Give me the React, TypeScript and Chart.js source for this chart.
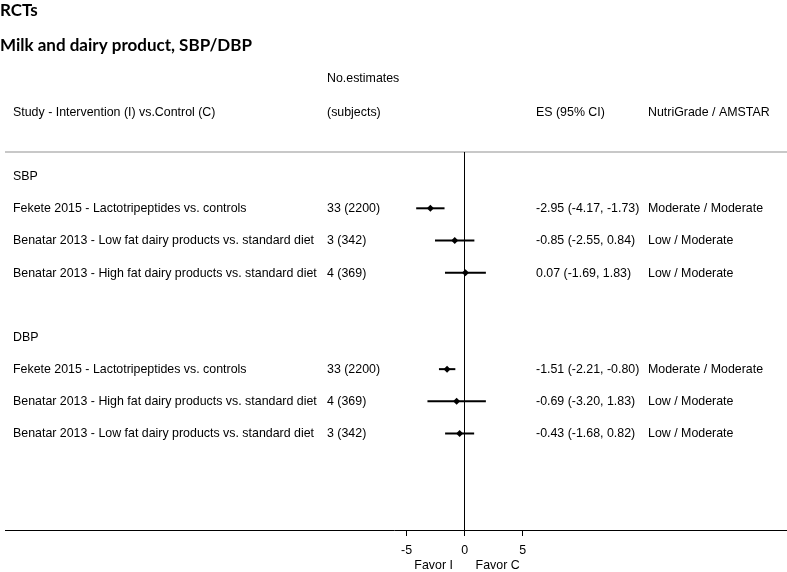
import React, { useEffect, useRef } from "react";
import { Chart, registerables } from "chart.js";

Chart.register(...registerables);

const titleTop = "RCTs";
const titleMain = "Milk and dairy product, SBP/DBP";

const rowLabels = [
  "SBP",
  "Fekete 2015 - Lactotripeptides vs. controls",
  "Benatar 2013 - Low fat dairy products vs. standard diet",
  "Benatar 2013 - High fat dairy products vs. standard diet",
  "",
  "DBP",
  "Fekete 2015 - Lactotripeptides vs. controls",
  "Benatar 2013 - High fat dairy products vs. standard diet",
  "Benatar 2013 - Low fat dairy products vs. standard diet",
];
const estimates = ["", "33 (2200)", "3 (342)", "4 (369)", "", "", "33 (2200)", "4 (369)", "3 (342)"];
const es: (number | null)[] = [null, -2.95, -0.85, 0.07, null, null, -1.51, -0.69, -0.43];
const lower: (number | null)[] = [null, -4.17, -2.55, -1.69, null, null, -2.21, -3.2, -1.68];
const upper: (number | null)[] = [null, -1.73, 0.84, 1.83, null, null, -0.8, 1.83, 0.82];
const grades = ["", "Moderate / Moderate", "Low / Moderate", "Low / Moderate", "", "", "Moderate / Moderate", "Low / Moderate", "Low / Moderate"];
const xTicks = [-5, 0, 5];

const fmt = (v: number) => v.toFixed(2);
const FONT = "12.4px 'Liberation Sans', Arial, sans-serif";

const textPlugin = {
  id: "forestText",
  beforeDraw(chart: any) {
    const { ctx, chartArea } = chart;
    ctx.save();
    ctx.strokeStyle = "#c8c8c8";
    ctx.lineWidth = 2;
    ctx.beginPath();
    ctx.moveTo(chartArea.left, chartArea.top);
    ctx.lineTo(chart.width, chartArea.top);
    ctx.stroke();
    ctx.strokeStyle = "#000";
    ctx.lineWidth = 1;
    ctx.beginPath();
    ctx.moveTo(chartArea.right - 1, chartArea.bottom + 0.5);
    ctx.lineTo(chart.width, chartArea.bottom + 0.5);
    ctx.stroke();
    ctx.restore();
  },
  afterDraw(chart: any) {
    const { ctx } = chart;
    const y = chart.scales.y;
    const x = chart.scales.x;
    ctx.save();
    ctx.fillStyle = "#000";
    ctx.textBaseline = "middle";
    ctx.textAlign = "left";
    ctx.font = "bold 17px Lato, 'Open Sans', sans-serif";
    ctx.fillText(titleTop, 0, 11);
    ctx.fillText(titleMain, 0, 46);
    ctx.font = FONT;
    ctx.fillText("No.estimates", 327, 79);
    ctx.fillText("Study - Intervention (I) vs.Control (C)", 13, 113);
    ctx.fillText("(subjects)", 327, 113);
    ctx.fillText("ES (95% CI)", 536, 113);
    ctx.fillText("NutriGrade / AMSTAR", 648, 113);
    rowLabels.forEach((lab, i) => {
      const py = y.getPixelForValue(i) + 0.5;
      if (lab) ctx.fillText(lab, 13, py);
      if (estimates[i]) ctx.fillText(estimates[i], 327, py);
      const e = es[i], lo = lower[i], hi = upper[i];
      if (e !== null && lo !== null && hi !== null) {
        ctx.fillText(`${fmt(e)} (${fmt(lo)}, ${fmt(hi)})`, 536, py);
      }
      if (grades[i]) ctx.fillText(grades[i], 648, py);
    });
    const z = x.getPixelForValue(0);
    ctx.textAlign = "center";
    ctx.fillText("Favor I", z - 31, 566);
    ctx.fillText("Favor C", z + 33, 566);
    ctx.restore();
  },
};

export default function App() {
  const ref = useRef<HTMLCanvasElement>(null);
  useEffect(() => {
    document.body.style.margin = "0";
    const ciSets = es
      .map((e, i) => ({ e, i }))
      .filter((d) => d.e !== null)
      .map((d) => ({
        type: "line" as const,
        data: [
          { x: lower[d.i] as number, y: d.i },
          { x: upper[d.i] as number, y: d.i },
        ],
        borderColor: "#000",
        borderWidth: 2,
        pointRadius: 0,
        showLine: true,
        order: 2,
      }));
    const pointSet = {
      type: "scatter" as const,
      data: es
        .map((e, i) => (e === null ? null : { x: e, y: i }))
        .filter((p) => p !== null),
      pointStyle: "rectRot",
      pointRadius: 3.5,
      backgroundColor: "#000",
      borderColor: "#000",
      borderWidth: 0,
      order: 1,
    };
    const chart = new Chart(ref.current as HTMLCanvasElement, {
      type: "scatter",
      data: { datasets: [...ciSets, pointSet] as any },
      options: {
        animation: false,
        responsive: false,
        maintainAspectRatio: false,
        layout: { padding: { left: 5, right: 0, top: 152, bottom: 0 } },
        plugins: { legend: { display: false }, tooltip: { enabled: false } },
        scales: {
          x: {
            type: "linear",
            min: -39.57,
            max: 27.41,
            afterBuildTicks: (s: any) => {
              s.ticks = xTicks.map((v) => ({ value: v }));
            },
            afterFit: (s: any) => {
              s.height = 42;
            },
            border: { display: true, color: "#000", width: 1 },
            grid: {
              color: (c: any) => (c.tick && c.tick.value === 0 ? "#000" : "rgba(0,0,0,0)"),
              lineWidth: 1,
              tickColor: "#000",
              tickLength: 6,
              drawOnChartArea: true,
            },
            ticks: {
              color: "#000",
              font: { family: "'Liberation Sans', Arial, sans-serif", size: 12.4 },
              padding: 7,
              maxRotation: 0,
              autoSkip: false,
            },
          },
          y: {
            type: "linear",
            display: false,
            reverse: true,
            min: -0.75,
            max: 11,
          },
        },
      },
      plugins: [textPlugin],
    });
    return () => chart.destroy();
  }, []);
  return <canvas ref={ref} width={787} height={572} style={{ display: "block" }} />;
}
